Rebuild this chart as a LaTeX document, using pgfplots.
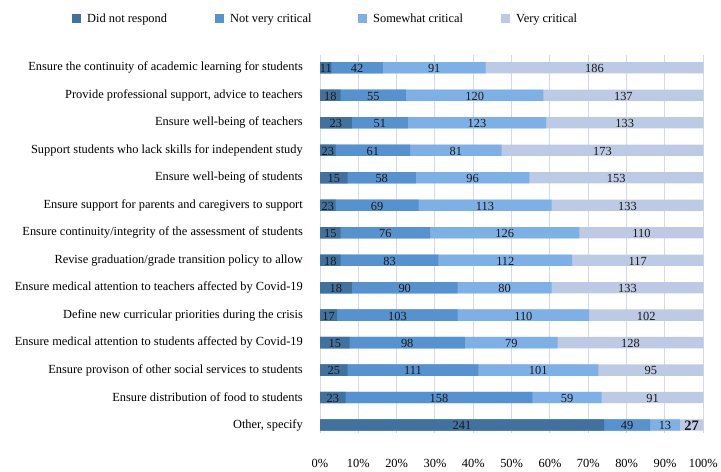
\documentclass[border=0pt]{standalone}
\usepackage{pgfplots}
\pgfplotsset{compat=1.18}
\usepackage{pgfplotstable}
\usepackage{fontspec}
\setmainfont{Liberation Serif}
\definecolor{c1}{HTML}{41729F}
\definecolor{c2}{HTML}{5592CF}
\definecolor{c3}{HTML}{7DB0E6}
\definecolor{c4}{HTML}{BDCAE5}
\definecolor{gridc}{HTML}{D3D9E8}
% e1,e2,e3: cumulative segment ends (% of bar), la..ld: printed counts
\pgfplotstableread{
y e1 e2 e3 la lb lc ld
0 3.0 16.4 43.2 11 42 91 186
1 5.4 22.4 58.3 18 55 120 137
2 8.3 22.9 59.0 23 51 123 133
3 4.1 23.5 47.4 23 61 81 173
4 7.2 25.0 54.6 15 58 96 153
5 4.1 25.7 60.4 23 69 113 133
6 5.4 28.7 67.7 15 76 126 110
7 5.4 30.9 65.8 18 83 112 117
8 8.3 35.9 60.4 18 90 80 133
9 4.5 35.9 70.2 17 103 110 102
10 7.7 37.8 62.0 15 98 79 128
11 7.2 41.3 72.6 25 111 101 95
12 6.7 55.4 73.5 23 158 59 91
13 74.1 86.1 93.9 241 49 13 27
}\data
\begin{document}
\begin{tikzpicture}[font=\fontsize{12.4bp}{14.5bp}\selectfont]
\path[use as bounding box] (0,0) rectangle (721bp,-472bp);
\begin{axis}[
  at={(320bp,-433.3bp)}, anchor=south west,
  scale only axis, width=383.3bp, height=378.3bp,
  xmin=0, xmax=100, ymin=-0.466, ymax=13.30, y dir=reverse,
  xtick={0,10,...,100},
  xticklabels={0\%,10\%,20\%,30\%,40\%,50\%,60\%,70\%,80\%,90\%,100\%},
  ytick={0,1,...,13},
  yticklabels={
    {Ensure the continuity of academic learning for students},
    {Provide professional support, advice to teachers},
    {Ensure well-being of teachers},
    {Support students who lack skills for independent study},
    {Ensure well-being of students},
    {Ensure support for parents and caregivers to support},
    {Ensure continuity/integrity of the assessment of students},
    {Revise graduation/grade transition policy to allow},
    {Ensure medical attention to teachers affected by Covid-19\ },
    {Define new curricular priorities during the crisis},
    {Ensure medical attention to students affected by Covid-19\ },
    {Ensure provison of other social services to students},
    {Ensure distribution of food to students},
    {Other, specify}},
  xmajorgrids, major grid style={draw=gridc, line width=1bp},
  axis line style={draw=none}, major tick length=0pt,
  xticklabel shift=26.2bp, yticklabel shift=17bp,
  tick label style={inner sep=0pt},
  x tick label style={anchor=north},
  y tick label style={anchor=east},
  /pgf/number format/assume math mode=true,
  bar width=11.3bp,
  legend columns=4,
  legend cell align=left,
  legend style={draw=none, fill=none, inner sep=0pt, at={(-0.647,1.096)}, anchor=west,
    /tikz/every odd column/.style={column sep=6bp},
    /tikz/every even column/.style={column sep=0bp},
    nodes={inner sep=0pt}},
  legend image code/.code={\fill[#1] (0bp,-4.5bp) rectangle (9bp,4.5bp);},
]
\addlegendimage{fill=c1, draw=none}\addlegendentry{\makebox[128bp][l]{Did not respond}}
\addlegendimage{fill=c2, draw=none}\addlegendentry{\makebox[128bp][l]{Not very critical}}
\addlegendimage{fill=c3, draw=none}\addlegendentry{\makebox[128bp][l]{Somewhat critical}}
\addlegendimage{fill=c4, draw=none}\addlegendentry{\makebox[60bp][l]{Very critical}}

\addplot[forget plot, xbar, bar shift=0pt, fill=c4, draw=none] table[x expr=100, y=y] {\data};
\addplot[forget plot, xbar, bar shift=0pt, fill=c3, draw=none] table[x=e3, y=y] {\data};
\addplot[forget plot, xbar, bar shift=0pt, fill=c2, draw=none] table[x=e2, y=y] {\data};
\addplot[forget plot, xbar, bar shift=0pt, fill=c1, draw=none] table[x=e1, y=y] {\data};

\pgfplotsset{lbl/.style={forget plot, only marks, mark=none, nodes near coords,
  point meta=explicit symbolic,
  every node near coord/.append style={anchor=center, inner sep=0pt, yshift=-0.8bp, text=black!90}}}
\addplot[lbl] table[x expr=\thisrow{e1}/2, y=y, meta=la] {\data};
\addplot[lbl] table[x expr=(\thisrow{e1}+\thisrow{e2})/2, y=y, meta=lb] {\data};
\addplot[lbl] table[x expr=(\thisrow{e2}+\thisrow{e3})/2, y=y, meta=lc] {\data};
\addplot[lbl, skip coords between index={13}{14}] table[x expr=(\thisrow{e3}+100)/2, y=y, meta=ld] {\data};
\addplot[lbl, skip coords between index={0}{13},
  every node near coord/.append style={font=\fontsize{14.5bp}{16bp}\selectfont\bfseries}]
  table[x expr=(\thisrow{e3}+100)/2, y=y, meta=ld] {\data};
\end{axis}
\end{tikzpicture}
\end{document}
